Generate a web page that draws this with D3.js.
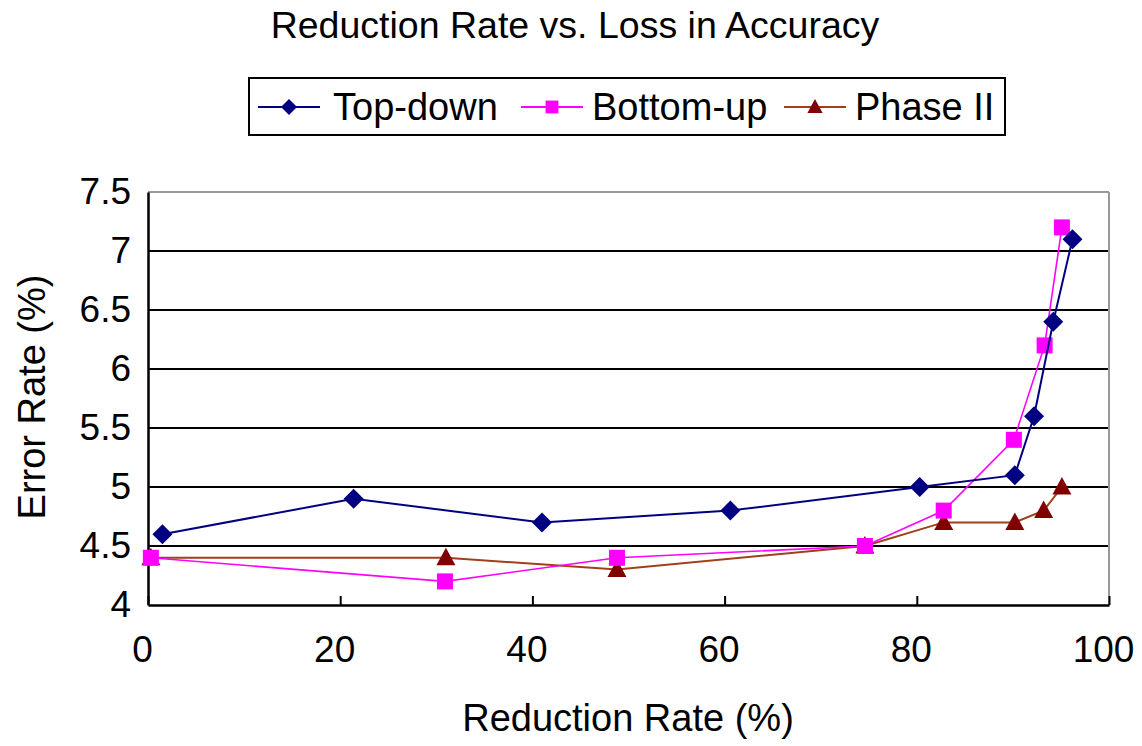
<!DOCTYPE html>
<html>
<head>
<meta charset="utf-8">
<script src="https://cdn.jsdelivr.net/npm/d3@7"></script>
<style>
  html, body { margin: 0; padding: 0; background: #fff; }
  svg { display: block; font-family: "Liberation Sans", Arial, sans-serif; }
</style>
</head>
<body>
<svg id="chart" width="1142" height="746"></svg>
<script>
// Reduction rate (%) vs. error rate (%) for the three pruning strategies
const topDownX = [1.5, 21.4, 41.0, 60.6, 80.3, 90.2, 92.2, 94.2, 96.2];
const topDownY = [4.6, 4.9, 4.7, 4.8, 5.0, 5.1, 5.6, 6.4, 7.1];
const bottomUpX = [0.3, 30.9, 48.8, 74.6, 82.8, 90.1, 93.3, 95.1];
const bottomUpY = [4.4, 4.2, 4.4, 4.5, 4.8, 5.4, 6.2, 7.2];
const phase2X = [0.3, 31.0, 48.8, 74.6, 82.8, 90.2, 93.2, 95.1];
const phase2Y = [4.4, 4.4, 4.3, 4.5, 4.7, 4.7, 4.8, 5.0];
const seriesNames = ["Top-down", "Bottom-up", "Phase II"];
const xTicks = [0, 20, 40, 60, 80, 100];
const yTicks = [4, 4.5, 5, 5.5, 6, 6.5, 7, 7.5];

const svg = d3.select("#chart");
const plot = { left: 148, right: 1109, top: 192, bottom: 605 };

const x = d3.scaleLinear().domain([0, 100]).range([plot.left, plot.right]);
const y = d3.scaleLinear().domain([4, 7.5]).range([plot.bottom, plot.top]);

// Title
svg.append("text")
  .attr("x", 575).attr("y", 38)
  .attr("text-anchor", "middle")
  .attr("font-size", 37.5)
  .text("Reduction Rate vs. Loss in Accuracy");

// Horizontal gridlines
svg.append("g")
  .selectAll("line")
  .data(yTicks.filter(v => v > 4 && v < 7.5))
  .join("line")
  .attr("x1", plot.left).attr("x2", plot.right)
  .attr("y1", d => y(d)).attr("y2", d => y(d))
  .attr("stroke", "#000").attr("stroke-width", 2);

// Plot frame (top/right light)
svg.append("line")
  .attr("x1", plot.left).attr("x2", plot.right)
  .attr("y1", plot.top).attr("y2", plot.top)
  .attr("stroke", "#999").attr("stroke-width", 2);
svg.append("line")
  .attr("x1", plot.right).attr("x2", plot.right)
  .attr("y1", plot.top).attr("y2", plot.bottom)
  .attr("stroke", "#999").attr("stroke-width", 2);

// Axes
const xAxis = d3.axisBottom(x).tickValues(xTicks).tickSizeInner(-9).tickSizeOuter(0).tickPadding(31);
const gx = svg.append("g").attr("transform", `translate(0,${plot.bottom})`).call(xAxis);
gx.select(".domain").attr("stroke", "#000").attr("stroke-width", 2.5);
gx.selectAll(".tick line").attr("stroke", "#000").attr("stroke-width", 2);
gx.selectAll(".tick text").attr("font-size", 37).attr("fill", "#000")
  .attr("dx", -6)
  .attr("font-family", "Liberation Sans, Arial, sans-serif");

const yAxis = d3.axisLeft(y).tickValues(yTicks).tickSize(0).tickPadding(17)
  .tickFormat(d => d3.format("")(d));
const gy = svg.append("g").attr("transform", `translate(${plot.left},0)`).call(yAxis);
gy.select(".domain").attr("stroke", "#000").attr("stroke-width", 2.5);
gy.selectAll(".tick text").attr("font-size", 37).attr("fill", "#000")
  .attr("font-family", "Liberation Sans, Arial, sans-serif");

// Axis titles
svg.append("text")
  .attr("x", 628).attr("y", 731)
  .attr("text-anchor", "middle")
  .attr("font-size", 38)
  .text("Reduction Rate (%)");
svg.append("text")
  .attr("transform", "translate(45,397) rotate(-90)")
  .attr("text-anchor", "middle")
  .attr("font-size", 38)
  .text("Error Rate (%)");

// Series
const series = [
  { name: seriesNames[0], xs: topDownX, ys: topDownY, line: "#000080", fill: "#000080", shape: "diamond", width: 2 },
  { name: seriesNames[1], xs: bottomUpX, ys: bottomUpY, line: "#FF00FF", fill: "#FF00FF", shape: "square", width: 1.6 },
  { name: seriesNames[2], xs: phase2X, ys: phase2Y, line: "#A0401A", fill: "#800000", shape: "triangle", width: 2 }
];

function marker(g, shape, fill, cx, cy, s) {
  if (shape === "diamond") {
    g.append("path")
      .attr("d", `M${cx},${cy - s}L${cx + s},${cy}L${cx},${cy + s}L${cx - s},${cy}Z`)
      .attr("fill", fill);
  } else if (shape === "square") {
    g.append("rect")
      .attr("x", cx - s * 0.8).attr("y", cy - s * 0.8)
      .attr("width", s * 1.6).attr("height", s * 1.6)
      .attr("fill", fill);
  } else {
    g.append("path")
      .attr("d", `M${cx},${cy - s}L${cx + s * 0.95},${cy + s * 0.75}L${cx - s * 0.95},${cy + s * 0.75}Z`)
      .attr("fill", fill);
  }
}

const line = d3.line().x(d => x(d[0])).y(d => y(d[1]));
const plotG = svg.append("g");
// draw Phase II first, then Bottom-up, then Top-down on top
[series[2], series[1], series[0]].forEach(s => {
  const pts = s.xs.map((v, i) => [v, s.ys[i]]);
  const g = plotG.append("g");
  g.append("path").datum(pts)
    .attr("d", line)
    .attr("fill", "none")
    .attr("stroke", s.line)
    .attr("stroke-width", s.width);
  pts.forEach(p => marker(g, s.shape, s.fill, x(p[0]), y(p[1]), 10));
});

// Legend
const legend = svg.append("g");
legend.append("rect")
  .attr("x", 249).attr("y", 78).attr("width", 756).attr("height", 57)
  .attr("fill", "#fff").attr("stroke", "#000").attr("stroke-width", 2);
const legendItems = [
  { s: series[0], lx: 258, tx: 333 },
  { s: series[1], lx: 521, tx: 592 },
  { s: series[2], lx: 784, tx: 855 }
];
legendItems.forEach(it => {
  const cy = 107;
  legend.append("line")
    .attr("x1", it.lx).attr("x2", it.lx + 62)
    .attr("y1", cy).attr("y2", cy)
    .attr("stroke", it.s.line).attr("stroke-width", 2);
  marker(legend, it.s.shape, it.s.fill, it.lx + 31, cy, 8);
  legend.append("text")
    .attr("x", it.tx).attr("y", cy + 13)
    .attr("font-size", 38)
    .text(it.s.name);
});
</script>
</body>
</html>
